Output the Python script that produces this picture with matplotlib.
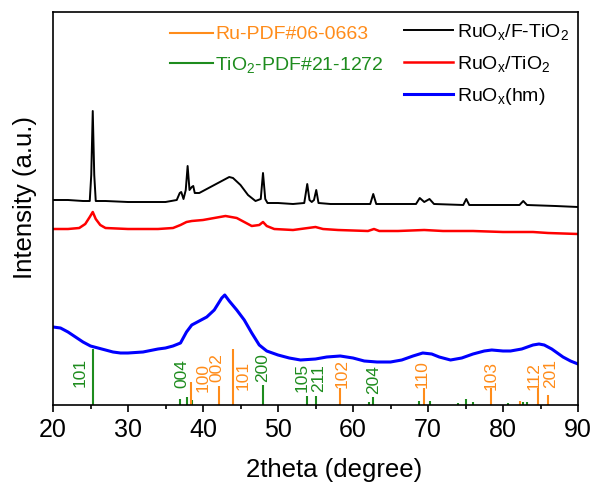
import matplotlib
matplotlib.use('Agg')
import matplotlib.pyplot as plt
from matplotlib.ticker import MultipleLocator

plt.rcParams['font.family'] = ['Liberation Sans', 'DejaVu Sans']
plt.rcParams['mathtext.fontset'] = 'custom'
plt.rcParams['mathtext.rm'] = 'Liberation Sans'
plt.rcParams['mathtext.it'] = 'Liberation Sans:italic'

# XRD patterns (2theta, intensity in a.u.)
f_tio2_x = [20, 22, 24, 24.9, 25.1, 25.3, 25.5, 25.7, 27, 30, 33, 35, 36.5, 36.9, 37.1,
            37.4, 37.7, 37.95, 38.2, 38.5, 38.7, 38.9, 39.5, 40.5, 41.5, 42.5, 43.5,
            44, 45, 46, 47, 47.7, 48.0, 48.3, 48.6, 50, 52, 53.5, 53.9, 54.2, 54.5,
            54.8, 55.1, 55.4, 57, 60, 62.3, 62.7, 63.1, 65, 68.4, 68.9, 69.5, 70.2,
            70.8, 74.7, 75.1, 75.5, 80, 82.2, 82.7, 83.2, 87, 90]
f_tio2_y = [205, 205, 204, 204, 230, 294, 230, 204, 204, 203, 203, 203, 205, 212, 213,
            206, 215, 239, 215, 218, 219, 212, 212, 216, 220, 224, 228,
            227, 220, 210, 204, 206, 232, 206, 202, 202, 201, 202, 221, 205, 203,
            205, 215, 202, 201, 201, 201, 211, 201, 201, 201, 207, 203, 206,
            201, 200, 206, 200, 200, 200, 204, 200, 199, 198]

tio2_x = [20, 22, 23.5, 24.3, 24.9, 25.3, 25.7, 26.3, 27, 30, 34, 36, 37, 37.8, 38.5,
          40, 41.5, 43, 44.5, 45.5, 46.5, 47.5, 48, 48.5, 49.5, 52, 54, 55, 56, 58,
          62, 62.8, 63.5, 66, 69.5, 72, 76, 80, 84, 86, 90]
tio2_y = [176, 176, 177, 181, 188, 193, 186, 180, 177, 176, 176, 177, 180, 183, 184,
          185, 187, 189, 187, 183, 179, 180, 183, 179, 176, 175, 177, 178, 176, 175,
          174, 176, 174, 174, 175, 174, 174, 173, 173, 172, 171]

hm_x = [20, 21, 22, 23, 24, 25, 26, 27, 28, 29, 30, 32, 34, 35, 36, 37, 37.8, 38.5,
        39.5, 40.5, 41.5, 42.5, 42.9, 43.5, 44.5, 45.5, 46.5, 47.5, 48.5, 50, 51.5,
        53, 55, 56.5, 58.3, 60, 61.5, 63.2, 65, 66.5, 68, 69.3, 70.5, 71.5, 73,
        74.5, 76, 77.5, 78.5, 80, 81, 82.5, 84, 84.8, 85.5, 86.5, 88, 89, 90]
hm_y = [78, 77, 73, 68, 63, 59, 57, 55, 53, 52, 52, 53, 56, 57, 59, 62, 73, 80,
        84, 88, 95, 107, 110, 104, 95, 85, 72, 60, 54, 50, 47,
        45, 46, 48, 49, 47, 44, 43, 43, 45, 49, 52, 51, 48, 45,
        47, 51, 54, 55, 54, 54, 56, 60, 61, 60, 56, 48, 44, 41]

# standard cards: line positions and heights
ru_pos = [38.39, 42.15, 44.00, 58.32, 69.40, 78.39, 82.22, 84.71, 85.95]
ru_h = [23, 19, 56, 17, 17, 17, 4, 17, 10]
ti_pos = [25.28, 36.95, 37.80, 38.57, 48.05, 53.89, 55.06, 62.12, 62.69, 68.76,
          70.31, 74.03, 75.03, 76.02, 80.73, 82.66, 83.15]
ti_h = [56, 6, 8, 5, 20, 9, 9, 3, 8, 4, 4, 2, 6, 3, 2, 3, 3]

# hkl labels (text, x, bottom)
ru_lab = ['100', '002', '101', '102', '110', '103', '112', '201']
ru_lab_x = [40.0, 41.9, 45.3, 58.5, 69.2, 78.4, 84.2, 86.4]
ru_lab_y = [13, 23, 15, 17, 17, 15, 15, 17]
ti_lab = ['101', '004', '200', '105', '211', '204']
ti_lab_x = [23.6, 37.2, 47.9, 53.2, 55.4, 62.8]
ti_lab_y = [18, 17, 23, 13, 13, 11]

orange = '#ff8c1a'
green = '#1e8c1e'

fig = plt.figure(figsize=(5.97, 4.90), dpi=100)
ax = fig.add_axes([53 / 597, 85 / 490, 525 / 597, 393 / 490])

l1, = ax.plot(f_tio2_x, f_tio2_y, color='black', lw=1.4, label=r'RuO$_\mathrm{x}$/F-TiO$_2$')
l2, = ax.plot(tio2_x, tio2_y, color='red', lw=1.8, label=r'RuO$_\mathrm{x}$/TiO$_2$')
l3, = ax.plot(hm_x, hm_y, color='blue', lw=2.2, label=r'RuO$_\mathrm{x}$(hm)')

ax.vlines(ti_pos, 0, ti_h, color=green, lw=1.5)
ax.vlines(ru_pos, 0, ru_h, color=orange, lw=1.5)
o_line, = ax.plot([], [], color=orange, lw=1.5, label='Ru-PDF#06-0663')
g_line, = ax.plot([], [], color=green, lw=1.5, label=r'TiO$_2$-PDF#21-1272')

for t, x, y in zip(ti_lab, ti_lab_x, ti_lab_y):
    ax.text(x, y, t, color=green, fontsize=12.5, rotation=90, ha='center', va='bottom')
for t, x, y in zip(ru_lab, ru_lab_x, ru_lab_y):
    ax.text(x, y, t, color=orange, fontsize=12.5, rotation=90, ha='center', va='bottom')

ax.set_xlim(20, 90)
ax.set_ylim(0, 393)
ax.set_yticks([])
ax.xaxis.set_major_locator(MultipleLocator(10))
ax.xaxis.set_minor_locator(MultipleLocator(5))
ax.tick_params(axis='x', which='major', direction='out', length=5, width=1.2, labelsize=18, pad=4)
ax.tick_params(axis='x', which='minor', direction='out', length=3, width=1.2)
for s in ax.spines.values():
    s.set_linewidth(1.2)

ax.set_xlabel('2theta (degree)', fontsize=18.5)
ax.xaxis.set_label_coords(0.536, -0.135)
ax.set_ylabel('Intensity (a.u.)', fontsize=18.5)
ax.yaxis.set_label_coords(-0.031, 0.529)

leg1 = ax.legend(handles=[l1, l2, l3], loc='upper left', bbox_to_anchor=(0.6686, 0.975),
                 frameon=False, fontsize=14, handlelength=2.5, handletextpad=0.25,
                 labelspacing=0.62, borderpad=0, borderaxespad=0)
ax.add_artist(leg1)
leg2 = ax.legend(handles=[o_line, g_line], loc='upper left', bbox_to_anchor=(0.223, 0.965),
                 frameon=False, fontsize=14, handlelength=2.2, handletextpad=0.12,
                 labelspacing=0.6, borderpad=0, borderaxespad=0)
for txt, c in zip(leg2.get_texts(), [orange, green]):
    txt.set_color(c)

fig.savefig('out.png', dpi=100)
